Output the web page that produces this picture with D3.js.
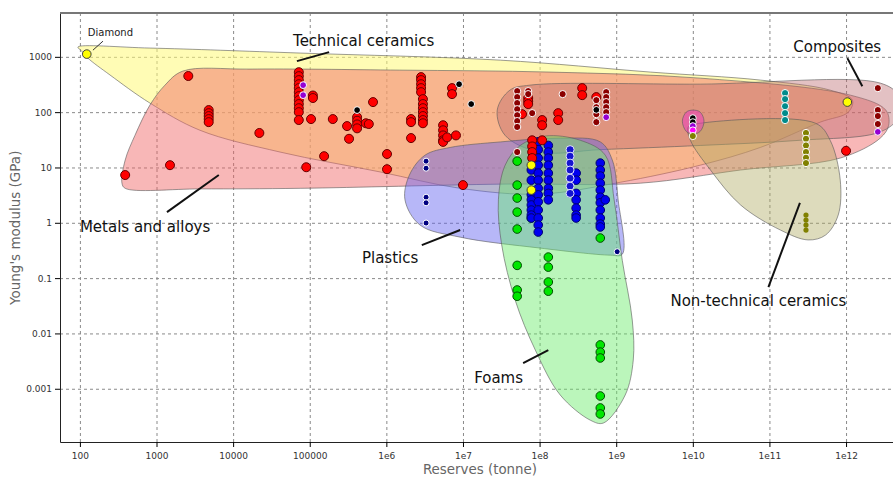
<!DOCTYPE html>
<html>
<head>
<meta charset="utf-8">
<script src="https://cdn.jsdelivr.net/npm/d3@7"></script>
<style>
    body { margin: 0; background: #fff; }
    text { font-family: "DejaVu Sans", sans-serif; }
</style>
</head>
<body>
<svg id="chart"></svg>
<script>
// ---------- Data (reserves in tonne, Young's modulus in GPa) ----------

const x_tick_values = [1e2, 1e3, 1e4, 1e5, 1e6, 1e7, 1e8, 1e9, 1e10, 1e11, 1e12];
const x_tick_labels = ["100", "1000", "10000", "100000", "1e6", "1e7", "1e8", "1e9", "1e10", "1e11", "1e12"];
const y_tick_values = [1e-3, 1e-2, 1e-1, 1, 10, 100, 1000];
const y_tick_labels = ["0.001", "0.01", "0.1", "1", "10", "100", "1000"];

// Family envelopes, as [reserves, modulus] outline vertices
const tech_ceramics_envelope = [[94, 1500], [820, 1440], [7.5e4, 1170], [3.1e7, 870], [2.8e9, 530], [7.6e10, 380],
    [6.2e11, 250], [1.21e12, 165], [1.07e12, 100], [4.6e11, 66], [7.6e10, 23], [1.25e10, 11], [1.13e9, 5.4],
    [1.0e8, 3.3], [9.2e6, 4.2], [8.3e5, 8.3], [4.1e4, 19], [3.7e3, 47], [820, 146], [247, 470], [127, 950], [104, 1300]];
const metals_envelope = [[354, 5.2], [390, 13.6], [523, 38], [820, 134], [1290, 308], [2200, 552], [1.66e4, 600],
    [1.5e6, 575], [1.37e8, 530], [1.25e10, 412], [1.14e12, 203], [3.3e12, 109], [3.6e12, 58], [2.8e12, 34],
    [8.4e11, 14.8], [4.2e10, 9.0], [2.06e9, 5.2], [3.1e7, 5.0], [7.5e4, 4.2], [3.7e3, 4.1], [390, 4.2]];
const composites_envelope = [[2.8e7, 109], [4.1e7, 250], [7.5e7, 308], [1.25e10, 321], [2.8e12, 335], [4.8e12, 200],
    [4.8e12, 80], [2.8e12, 44], [2.5e11, 31], [1.25e10, 25], [6.2e8, 21], [1.0e8, 19], [3.55e7, 38]];
const nontech_ceramics_envelope = [[8.7e9, 54], [1.25e10, 63], [4.0e11, 63], [6.2e11, 31], [8.4e11, 5.9], [7.9e11, 1.38],
    [5.4e11, 0.6], [3.2e11, 0.49], [1.39e11, 0.74], [4.2e10, 2.1], [1.7e10, 9.0], [9.3e9, 31]];
const natural_envelope = [[7.3e9, 69], [8.2e9, 100], [1.0e10, 109], [1.25e10, 100], [1.4e10, 69], [1.25e10, 45],
    [1.0e10, 40], [8.2e9, 45]];
const plastics_envelope = [[1.75e6, 2.6], [2.0e6, 7.3], [3.2e6, 16.7], [6.8e6, 23], [3.1e7, 29], [1.86e8, 34],
    [6.2e8, 29], [8.9e8, 13.6], [1.06e9, 2.6], [1.2e9, 0.27], [8.4e8, 0.26], [1.0e8, 0.35], [9.2e6, 0.55], [2.75e6, 0.91]];
const foams_envelope = [[1.18e8, 37], [3.4e8, 31], [7.2e8, 16.7], [9.4e8, 2.6], [1.2e9, 0.21], [1.62e9, 0.0175],
    [1.67e9, 0.0033], [1.31e9, 0.00077], [6.8e8, 0.00024], [4.6e8, 0.00027], [1.86e8, 0.00077], [8.8e7, 0.005],
    [4.8e7, 0.04], [3.2e7, 0.4], [2.9e7, 2.6], [3.55e7, 11], [5.6e7, 25]];

// Material records, as [reserves, modulus]
const metal_points = [[2.6e3, 450], [4.8e3, 109], [4.8e3, 96], [4.8e3, 85], [4.8e3, 75], [4.8e3, 66], [2.2e4, 42],
    [1.5e3, 11], [390, 7.3],
    [7.2e4, 528], [7.2e4, 448], [7.2e4, 380], [7.2e4, 320], [7.2e4, 272], [7.2e4, 230], [7.2e4, 195], [7.2e4, 165],
    [7.2e4, 140], [7.2e4, 118], [7.2e4, 100], [7.2e4, 72],
    [1.1e5, 200], [1.1e5, 180], [1.04e5, 75], [2.0e5, 75], [3.07e5, 56], [3.26e5, 33], [1.54e5, 16], [9.0e4, 10.1],
    [4.15e5, 81], [4.15e5, 70], [4.15e5, 60], [4.15e5, 51], [6.7e5, 152], [5.4e5, 63], [5.9e5, 61],
    [1.02e6, 17.5], [1.02e6, 9.3],
    [2.84e6, 430], [2.84e6, 380], [2.84e6, 320], [2.84e6, 272], [2.84e6, 230],
    [3.0e6, 172], [3.0e6, 140], [3.0e6, 118], [3.0e6, 100], [3.0e6, 85], [3.0e6, 72], [3.0e6, 63],
    [2.1e6, 75], [2.1e6, 66], [2.1e6, 34],
    [5.5e6, 58], [5.5e6, 47], [5.5e6, 38], [5.5e6, 31], [5.5e6, 29], [6.2e6, 35], [8.1e6, 38],
    [7.2e6, 272], [7.2e6, 212], [1.0e7, 4.8],
    [7.1e7, 180], [7.1e7, 158], [7.1e7, 140], [5.9e7, 92], [1.08e8, 72], [1.08e8, 58], [1.08e8, 31],
    [1.75e8, 96], [1.75e8, 72], [3.6e8, 272], [3.6e8, 203], [5.5e8, 187],
    [8.0e7, 31], [8.0e7, 24], [8.0e7, 19], [8.0e7, 14.8], [1.0e12, 20]];
const dark_red_points = [[5.1e7, 240], [5.1e7, 187], [5.1e7, 146], [5.1e7, 113], [5.1e7, 88], [5.1e7, 69], [5.1e7, 54],
    [5.1e7, 19], [7.1e7, 240], [7.1e7, 212], [8.0e7, 96], [2.0e8, 212],
    [5.5e8, 165], [5.5e8, 123], [5.5e8, 92], [5.5e8, 66],
    [7.4e8, 230], [7.4e8, 187], [7.4e8, 152], [7.4e8, 123], [7.4e8, 100],
    [2.6e12, 272], [2.6e12, 109], [2.6e12, 85], [2.6e12, 61]];
const black_points = [[4.15e5, 109], [8.9e6, 320], [1.28e7, 140], [5.5e8, 110], [1.0e10, 78], [1.0e10, 66]];
const purple_points = [[8.2e4, 308], [8.2e4, 203], [7.4e8, 81], [2.6e12, 44], [1.0e10, 56]];
const magenta_points = [[1.0e10, 47]];
const plastic_points = [[7.8e7, 9.0], [7.8e7, 5.9], [7.8e7, 3.2], [7.8e7, 2.6], [7.8e7, 2.1], [7.8e7, 1.7], [7.8e7, 1.38], [7.8e7, 1.22],
    [9.6e7, 29], [9.6e7, 21], [9.6e7, 14.8], [9.6e7, 11], [9.6e7, 7.9], [9.6e7, 5.9], [9.6e7, 4.2], [9.6e7, 3.2],
    [9.6e7, 2.4], [9.6e7, 1.7], [9.6e7, 1.22], [9.6e7, 0.91], [9.6e7, 0.68],
    [1.3e8, 25], [1.3e8, 19], [1.3e8, 14.8], [1.3e8, 11], [1.3e8, 7.9], [1.3e8, 5.9], [1.3e8, 4.2], [1.3e8, 3.4], [1.3e8, 2.6],
    [3.0e8, 7.9], [3.0e8, 5.9], [3.0e8, 3.4], [3.0e8, 2.6], [3.0e8, 1.84], [3.0e8, 1.38], [3.0e8, 1.22],
    [6.2e8, 12], [6.2e8, 9.0], [6.2e8, 7.0], [6.2e8, 5.2], [6.2e8, 3.9], [6.2e8, 2.9], [6.2e8, 2.3], [6.2e8, 1.7],
    [6.2e8, 1.22], [6.2e8, 0.95], [6.2e8, 0.84], [7.2e8, 2.6]];
const plastic_rimmed_points = [[2.5e8, 21], [2.5e8, 16], [2.5e8, 12], [2.5e8, 9.0], [2.5e8, 6.4], [2.5e8, 4.6], [2.5e8, 3.4]];
const navy_points = [[3.3e6, 13], [3.3e6, 9.7], [3.3e6, 2.9], [3.3e6, 2.3], [3.3e6, 0.99], [1.03e9, 0.3]];
const foam_points = [[5.1e7, 13], [5.1e7, 4.8], [5.1e7, 2.8], [5.1e7, 1.56], [5.1e7, 0.77], [7.8e7, 1.22], [6.2e8, 0.53],
    [5.1e7, 0.17], [5.1e7, 0.061], [5.1e7, 0.047],
    [1.3e8, 0.24], [1.3e8, 0.158], [1.3e8, 0.085], [1.3e8, 0.058],
    [6.2e8, 0.0062], [6.2e8, 0.0046], [6.2e8, 0.0036], [6.2e8, 0.00074], [6.2e8, 0.00045], [6.2e8, 0.00035]];
const yellow_points = [[123, 1120], [7.8e7, 11], [7.8e7, 3.9], [1.04e12, 152]];
const teal_points = [[1.6e11, 221], [1.6e11, 172], [1.6e11, 128], [1.6e11, 96], [1.6e11, 72]];
const olive_points = [[1.0e10, 37], [3.0e11, 42], [3.0e11, 33], [3.0e11, 25], [3.0e11, 19], [3.0e11, 15], [3.0e11, 12]];
const olive_thin_points = [[3.0e11, 1.38], [3.0e11, 1.12], [3.0e11, 0.91], [3.0e11, 0.74]];

// Family labels: text, text anchor, pointer start, pointer end
const family_labels = ["Technical ceramics", "Composites", "Metals and alloys", "Plastics", "Foams", "Non-technical ceramics"];
const family_label_at = [[6.05e4, 1560], [2.05e11, 1216], [100, 0.68], [4.8e5, 0.187], [1.4e7, 0.00127], [5.1e9, 0.031]];
const family_pointer_from = [[6.8e4, 836], [1.04e12, 948], [1370, 1.56], [2.9e6, 0.395], [6.1e7, 0.0029], [9.7e10, 0.069]];
const family_pointer_to = [[1.79e5, 1216], [1.63e12, 295], [6.5e3, 7.3], [9.2e6, 0.74], [1.3e8, 0.005], [2.5e11, 2.3]];

// ---------- Chart ----------

const width = 893, height = 477;
const plot = { left: 60, top: 13, right: 893, bottom: 442 };

const x_scale = d3.scaleLog().domain([55, 4.1e12]).range([plot.left, plot.right]);
const y_scale = d3.scaleLog().domain([1.09e-4, 6.2e3]).range([plot.bottom, plot.top]);

const svg = d3.select("#chart").attr("width", width).attr("height", height);

svg.append("defs").append("clipPath").attr("id", "plot-clip")
    .append("rect")
    .attr("x", plot.left).attr("y", plot.top)
    .attr("width", plot.right - plot.left).attr("height", plot.bottom - plot.top);

// Dashed grid at every decade
const grid = svg.append("g").attr("stroke", "#8a8a8a").attr("stroke-dasharray", "3,3").attr("stroke-width", 1);
grid.selectAll(".vgrid").data(x_tick_values).enter().append("line")
    .attr("x1", d => x_scale(d) + 0.5).attr("x2", d => x_scale(d) + 0.5)
    .attr("y1", plot.top).attr("y2", plot.bottom);
grid.selectAll(".hgrid").data(y_tick_values).enter().append("line")
    .attr("x1", plot.left).attr("x2", plot.right)
    .attr("y1", d => y_scale(d) + 0.5).attr("y2", d => y_scale(d) + 0.5);

// Envelopes
const envelope_line = d3.line()
    .x(d => x_scale(d[0]))
    .y(d => y_scale(d[1]))
    .curve(d3.curveCatmullRomClosed.alpha(0.5));

const envelopes = [
    { pts: tech_ceramics_envelope, fill: "rgb(255,250,120)", op: 0.55 },
    { pts: metals_envelope, fill: "rgb(240,95,95)", op: 0.45 },
    { pts: composites_envelope, fill: "rgb(185,100,105)", op: 0.4 },
    { pts: nontech_ceramics_envelope, fill: "rgb(175,170,95)", op: 0.42 },
    { pts: natural_envelope, fill: "rgb(235,60,190)", op: 0.55 },
    { pts: plastics_envelope, fill: "rgb(95,95,240)", op: 0.45 },
    { pts: foams_envelope, fill: "rgb(105,235,105)", op: 0.45 }
];
svg.append("g").attr("clip-path", "url(#plot-clip)")
    .selectAll("path").data(envelopes).enter().append("path")
    .attr("d", d => envelope_line(d.pts))
    .attr("fill", d => d.fill)
    .attr("fill-opacity", d => d.op)
    .attr("stroke", "#5a5a5a")
    .attr("stroke-opacity", 0.6)
    .attr("stroke-width", 1);

// Material points
const point_groups = [
    { pts: foam_points, fill: "#00e600", stroke: "#004d00", r: 4.3 },
    { pts: plastic_points, fill: "#0000f0", stroke: "#000070", r: 4.3 },
    { pts: plastic_rimmed_points, fill: "#1515d0", stroke: "#e0e0ff", r: 4 },
    { pts: navy_points, fill: "#000080", stroke: "#ffffff", r: 3 },
    { pts: metal_points, fill: "#ff0000", stroke: "#660000", r: 4.5 },
    { pts: dark_red_points, fill: "#8b0000", stroke: "#ffffff", r: 3.6 },
    { pts: black_points, fill: "#000000", stroke: "#ffffff", r: 3.4 },
    { pts: purple_points, fill: "#9400d3", stroke: "#ffffff", r: 3.4 },
    { pts: magenta_points, fill: "#ff00ff", stroke: "#ffffff", r: 3.4 },
    { pts: yellow_points, fill: "#ffff00", stroke: "#404040", r: 4.3 },
    { pts: teal_points, fill: "#008b8b", stroke: "#ffffff", r: 3.6 },
    { pts: olive_points, fill: "#808000", stroke: "#ffffff", r: 3.6 },
    { pts: olive_thin_points, fill: "#808000", stroke: "none", r: 2.6 }
];
const points_layer = svg.append("g").attr("clip-path", "url(#plot-clip)");
point_groups.forEach(g => {
    points_layer.append("g").selectAll("circle").data(g.pts).enter().append("circle")
        .attr("cx", d => x_scale(d[0]))
        .attr("cy", d => y_scale(d[1]))
        .attr("r", g.r)
        .attr("fill", g.fill)
        .attr("stroke", g.stroke)
        .attr("stroke-width", 1);
});

// Axes with log minor ticks
const x_minor = [], y_minor = [];
for (let e = 1; e <= 12; e++) for (let m = 2; m <= 9; m++) {
    const v = m * Math.pow(10, e);
    if (v > x_scale.domain()[0] && v < x_scale.domain()[1]) x_minor.push(v);
}
for (let e = -4; e <= 3; e++) for (let m = 2; m <= 9; m++) {
    const v = m * Math.pow(10, e);
    if (v > y_scale.domain()[0] && v < y_scale.domain()[1]) y_minor.push(v);
}

const x_axis_g = svg.append("g").attr("transform", `translate(0, ${plot.bottom})`);
x_axis_g.call(d3.axisBottom(x_scale).tickValues(x_minor).tickSize(3).tickFormat("").tickSizeOuter(0));
x_axis_g.call(d3.axisBottom(x_scale).tickValues(x_tick_values).tickSize(5).tickSizeOuter(0)
    .tickPadding(6).tickFormat((d, i) => x_tick_labels[i]));
x_axis_g.selectAll("text").attr("fill", "#333").style("font-size", "9px").style("font-family", "DejaVu Sans");
x_axis_g.selectAll(".domain").attr("stroke", "#222");

const y_axis_g = svg.append("g").attr("transform", `translate(${plot.left}, 0)`);
y_axis_g.call(d3.axisLeft(y_scale).tickValues(y_minor).tickSize(3).tickFormat("").tickSizeOuter(0));
y_axis_g.call(d3.axisLeft(y_scale).tickValues(y_tick_values).tickSize(5).tickSizeOuter(0)
    .tickPadding(3).tickFormat((d, i) => y_tick_labels[i]));
y_axis_g.selectAll("text").attr("fill", "#333").style("font-size", "9px").style("font-family", "DejaVu Sans");
y_axis_g.selectAll(".domain").attr("stroke", "#222");

// Upper frame line
svg.append("line")
    .attr("x1", plot.left).attr("x2", plot.right)
    .attr("y1", plot.top).attr("y2", plot.top)
    .attr("stroke", "#777").attr("stroke-width", 2);

// Axis titles
svg.append("text")
    .attr("x", (x_scale(1e2) + x_scale(1e12)) / 2 + 17)
    .attr("y", 474)
    .attr("text-anchor", "middle")
    .attr("fill", "#666")
    .style("font-size", "13.4px")
    .text("Reserves (tonne)");
svg.append("text")
    .attr("transform", `translate(20, ${(y_scale(1e-3) + y_scale(1e3)) / 2 + 5}) rotate(-90)`)
    .attr("text-anchor", "middle")
    .attr("fill", "#666")
    .style("font-size", "13.5px")
    .text("Young's modulus (GPa)");

// Family labels and their pointers
const notes = svg.append("g");
notes.selectAll("line").data(family_labels).enter().append("line")
    .attr("x1", (d, i) => x_scale(family_pointer_from[i][0]))
    .attr("y1", (d, i) => y_scale(family_pointer_from[i][1]))
    .attr("x2", (d, i) => x_scale(family_pointer_to[i][0]))
    .attr("y2", (d, i) => y_scale(family_pointer_to[i][1]))
    .attr("stroke", "#111").attr("stroke-width", 2);
notes.selectAll("text").data(family_labels).enter().append("text")
    .attr("x", (d, i) => x_scale(family_label_at[i][0]))
    .attr("y", (d, i) => y_scale(family_label_at[i][1]))
    .attr("fill", "#111")
    .style("font-size", "15px")
    .text(d => d);

// Diamond callout
notes.append("line")
    .attr("x1", x_scale(148)).attr("y1", y_scale(1320))
    .attr("x2", x_scale(200)).attr("y2", y_scale(1920))
    .attr("stroke", "#333").attr("stroke-width", 1);
notes.append("text")
    .attr("x", x_scale(127)).attr("y", y_scale(2370))
    .attr("fill", "#222")
    .style("font-size", "10px")
    .text("Diamond");
</script>
</body>
</html>
